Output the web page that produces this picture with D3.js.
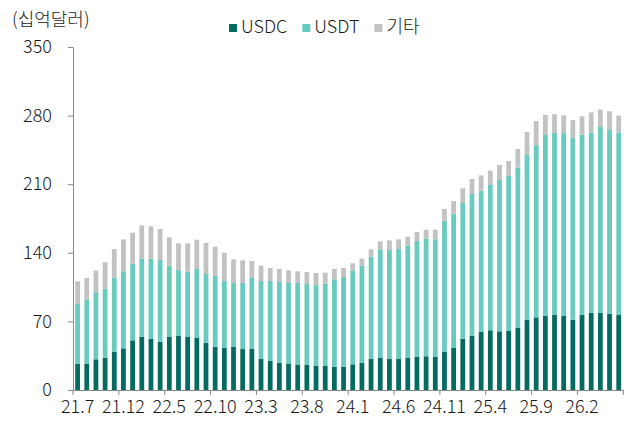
<!DOCTYPE html>
<html>
<head>
<meta charset="utf-8">
<script src="https://cdn.jsdelivr.net/npm/d3@7"></script>
<style>
  html, body { margin: 0; padding: 0; background: #fff; }
  svg text { font-family: "Noto Sans CJK KR", "Noto Sans", sans-serif; font-weight: 300; fill: #1a1a1a; }
</style>
</head>
<body>
<div id="chart"></div>
<script>
// 월 (21.7 ~ 26.6)
const months = [
  "21.7","21.8","21.9","21.10","21.11","21.12","22.1","22.2","22.3","22.4","22.5","22.6",
  "22.7","22.8","22.9","22.10","22.11","22.12","23.1","23.2","23.3","23.4","23.5","23.6",
  "23.7","23.8","23.9","23.10","23.11","23.12","24.1","24.2","24.3","24.4","24.5","24.6",
  "24.7","24.8","24.9","24.10","24.11","24.12","25.1","25.2","25.3","25.4","25.5","25.6",
  "25.7","25.8","25.9","25.10","25.11","25.12","26.1","26.2","26.3","26.4","26.5","26.6"
];
const tickLabels = ["21.7","21.12","22.5","22.10","23.3","23.8","24.1","24.6","24.11","25.4","25.9","26.2"];
const yTicks = [0, 70, 140, 210, 280, 350];

// 십억달러
const usdc = [
  26.9, 26.9, 31.3, 33.0, 39.1, 42.5, 50.7, 54.4, 52.0, 49.3, 54.1, 55.1,
  54.1, 53.1, 48.3, 44.2, 43.2, 43.9, 41.8, 41.8, 31.6, 29.6, 27.9, 26.5,
  25.5, 25.5, 24.5, 24.5, 23.8, 23.8, 26.2, 27.6, 31.6, 32.7, 31.6, 31.6,
  32.7, 33.7, 34.4, 33.7, 38.8, 42.9, 52.4, 55.4, 59.2, 60.9, 59.9, 60.2,
  63.3, 71.4, 74.1, 75.5, 76.9, 75.5, 71.8, 76.5, 78.6, 78.6, 77.6, 76.5
];
const usdt = [
  60.9, 65.3, 68.4, 70.4, 75.5, 78.6, 78.2, 79.6, 82.0, 83.4, 72.8, 67.3,
  66.6, 70.4, 70.1, 72.1, 68.0, 65.3, 67.4, 72.5, 79.6, 81.6, 83.0, 82.7,
  83.7, 82.7, 82.6, 84.0, 89.1, 91.5, 95.9, 99.3, 104.5, 110.2, 111.3, 112.3,
  114.6, 118.3, 119.7, 120.0, 134.0, 137.0, 138.4, 144.6, 144.2, 148.3, 154.4, 158.2,
  163.6, 168.4, 175.6, 184.7, 185.3, 186.7, 185.3, 184.0, 184.0, 189.8, 188.4, 186.1
];
const other = [
  23.1, 22.1, 22.1, 26.9, 29.3, 32.6, 31.6, 34.0, 33.0, 31.6, 28.9, 27.3,
  29.0, 29.9, 31.6, 30.0, 28.9, 24.1, 23.1, 17.3, 15.7, 13.3, 12.6, 12.9,
  11.9, 12.2, 12.3, 11.2, 10.6, 9.2, 7.2, 7.1, 7.4, 8.8, 9.8, 9.8,
  9.2, 9.2, 9.5, 9.9, 11.9, 13.0, 15.0, 15.3, 15.6, 14.6, 15.3, 15.3,
  19.0, 23.5, 24.8, 20.4, 19.1, 18.1, 18.4, 18.8, 20.7, 17.7, 18.4, 17.4
];

const seriesKeys = ["USDC", "USDT", "기타"];
const colors = { "USDC": "#046b60", "USDT": "#69cbbd", "기타": "#c2c2c2" };

const width = 632, height = 425;
const plot = { left: 73, right: 623.3, top: 47, bottom: 390 };

const table = months.map((m, i) => ({ month: m, "USDC": usdc[i], "USDT": usdt[i], "기타": other[i] }));
const stacked = d3.stack().keys(seriesKeys)(table);

const x = d3.scaleBand()
    .domain(months)
    .range([plot.left, plot.right])
    .paddingInner(0.48)
    .paddingOuter(0.24);

const y = d3.scaleLinear()
    .domain([0, 350])
    .range([plot.bottom, plot.top]);

const svg = d3.select("#chart").append("svg")
    .attr("width", width)
    .attr("height", height);

// 막대
svg.append("g").selectAll("g")
    .data(stacked)
    .join("g")
    .attr("fill", d => colors[d.key])
    .selectAll("rect")
    .data(d => d)
    .join("rect")
    .attr("x", d => x(d.data.month))
    .attr("width", x.bandwidth())
    .attr("y", d => y(d[1]))
    .attr("height", d => y(d[0]) - y(d[1]));

// Y축
const yAxis = svg.append("g")
    .attr("transform", `translate(${plot.left},0)`)
    .call(d3.axisLeft(y).tickValues(yTicks).tickSize(5).tickPadding(16).tickSizeOuter(0));
yAxis.select(".domain").attr("stroke", "#8a8a8a");
yAxis.selectAll(".tick line").attr("stroke", "#8a8a8a");
yAxis.selectAll(".tick text").attr("font-size", 18).attr("fill", "#1a1a1a");

// X축
const xAxis = svg.append("g")
    .attr("transform", `translate(0,${plot.bottom})`)
    .call(d3.axisBottom(x).tickValues(tickLabels).tickSize(0).tickPadding(9).tickSizeOuter(0));
xAxis.select(".domain").attr("stroke", "#8a8a8a");
xAxis.selectAll(".tick text").attr("font-size", 18).attr("fill", "#1a1a1a").attr("dy", "0.75em");

// 카테고리 경계 눈금 (5개월 간격)
const boundaryIdx = d3.range(0, months.length + 1, 5);
svg.append("g").selectAll("line")
    .data(boundaryIdx)
    .join("line")
    .attr("x1", i => x.range()[0] + i * x.step())
    .attr("x2", i => x.range()[0] + i * x.step())
    .attr("y1", plot.bottom)
    .attr("y2", plot.bottom + 5)
    .attr("stroke", "#8a8a8a");

// 단위
svg.append("text")
    .attr("x", 12)
    .attr("y", 26)
    .attr("font-size", 18)
    .text("(십억달러)");

// 범례
const legend = svg.append("g").attr("transform", "translate(229,27)");
let lx = 0;
seriesKeys.forEach(k => {
    const item = legend.append("g").attr("transform", `translate(${lx},0)`);
    item.append("rect")
        .attr("x", 0).attr("y", -3)
        .attr("width", 8).attr("height", 8)
        .attr("fill", colors[k]);
    const t = item.append("text")
        .attr("x", 12)
        .attr("y", 0)
        .attr("dy", "0.35em")
        .attr("font-size", 18)
        .text(k);
    lx += 12 + t.node().getComputedTextLength() + 15;
});
</script>
</body>
</html>
